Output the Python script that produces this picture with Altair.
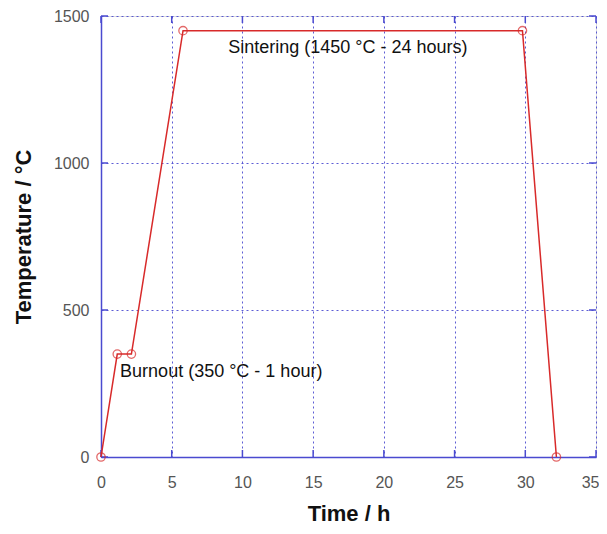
import altair as alt
import pandas as pd

# Data
time_h = [0.0, 1.15, 2.15, 5.8, 29.8, 32.2]
temp_c = [0, 350, 350, 1450, 1450, 0]
x_ticks = [0, 5, 10, 15, 20, 25, 30, 35]
y_ticks = [0, 500, 1000, 1500]
ann_text = ["Sintering (1450 °C - 24 hours)", "Burnout (350 °C - 1 hour)"]
ann_x = [9.0, 1.35]
ann_y = [1392, 288]

df = pd.DataFrame({"t": time_h, "T": temp_c, "order": list(range(len(time_h)))})
ann = pd.DataFrame({"label": ann_text, "x": ann_x, "y": ann_y})
xt = pd.DataFrame({"x": x_ticks})
yt = pd.DataFrame({"y": y_ticks})

BLUE = "#4a4ad0"
RED = "#d82a2a"
FONT = "Liberation Sans"
W, H = 495, 441

xs = alt.Scale(domain=[0, 35], nice=False, zero=False)
ys = alt.Scale(domain=[0, 1500], nice=False, zero=False)

xax = alt.Axis(values=x_ticks, title="Time / h", format="d", labelFlush=False,
               labelAlign={"condition": {"test": "datum.value == 35", "value": "right"},
                           "value": "center"},
               labelOffset={"condition": {"test": "datum.value == 35", "value": 3},
                            "value": 0},
               grid=True, gridColor=BLUE,
               gridDash=[2, 3], gridOpacity=0.9, gridWidth=1,
               domainColor=BLUE, domainWidth=1.5, ticks=False,
               labelPadding=17, labelFontSize=16, labelColor="#555555",
               labelFont=FONT, titleFont=FONT, titleFontSize=22,
               titleFontWeight="bold", titleColor="#111111", titlePadding=13)
yax = alt.Axis(values=y_ticks, title="Temperature / °C", format="d", labelFlush=False,
               grid=True, gridColor=BLUE,
               gridDash=[2, 3], gridOpacity=0.9, gridWidth=1,
               domainColor=BLUE, domainWidth=1.5, ticks=False,
               labelPadding=12, labelFontSize=16, labelColor="#555555",
               labelFont=FONT, titleFont=FONT, titleFontSize=22,
               titleFontWeight="bold", titleColor="#111111", titlePadding=18)

base = alt.Chart(df)
line = base.mark_line(color=RED, strokeWidth=1.5).encode(
    x=alt.X("t:Q", scale=xs, axis=xax),
    y=alt.Y("T:Q", scale=ys, axis=yax),
    order="order:O",
)
pts = base.mark_point(shape="circle", filled=False, color=RED, size=70,
                      strokeWidth=1.3).encode(
    x=alt.X("t:Q", scale=xs), y=alt.Y("T:Q", scale=ys))

text = alt.Chart(ann).mark_text(align="left", baseline="middle", fontSize=18,
                                font=FONT, color="#111111").encode(
    x=alt.X("x:Q", scale=xs), y=alt.Y("y:Q", scale=ys), text="label:N")

# inward tick marks on the frame
tb = alt.Chart(xt).mark_rule(color=BLUE, strokeWidth=1.5).encode(
    x=alt.X("x:Q", scale=xs), y=alt.value(H), y2=alt.value(H - 7))
tt = alt.Chart(xt).mark_rule(color=BLUE, strokeWidth=1.5).encode(
    x=alt.X("x:Q", scale=xs), y=alt.value(0), y2=alt.value(7))
tl = alt.Chart(yt).mark_rule(color=BLUE, strokeWidth=1.5).encode(
    y=alt.Y("y:Q", scale=ys), x=alt.value(0), x2=alt.value(7))
tr = alt.Chart(yt).mark_rule(color=BLUE, strokeWidth=1.5).encode(
    y=alt.Y("y:Q", scale=ys), x=alt.value(W), x2=alt.value(W - 7))

chart = alt.layer(tb, tt, tl, tr, line, pts, text).properties(
    width=W, height=H,
    autosize=alt.AutoSizeParams(type="none"),
    padding={"left": 93, "top": 8, "right": 3, "bottom": 68},
).configure_view(stroke=BLUE, strokeWidth=1.5).configure(background="white")

chart.save("out.html", embed_options={"renderer": "svg", "actions": False})
